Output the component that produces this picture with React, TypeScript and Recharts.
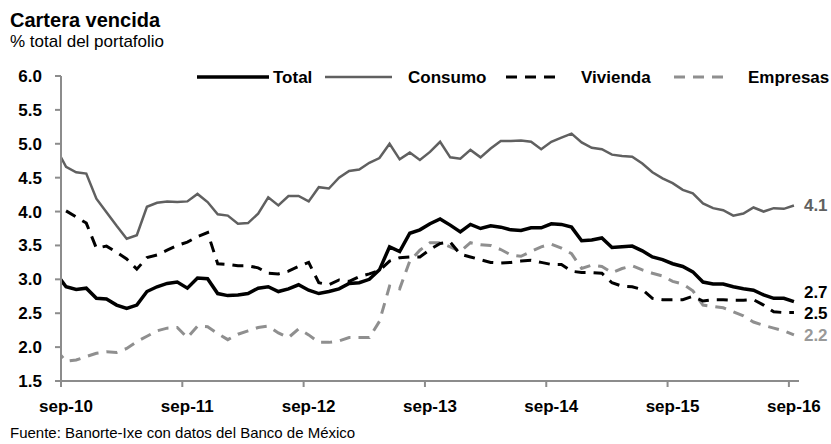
import { LineChart, Line, XAxis, YAxis } from "recharts";

// monthly series, Aug-10 .. Sep-16 (the Aug-10 value only feeds the clipped first segment)
const total = [
  3.09, 2.89, 2.85, 2.87, 2.72, 2.71, 2.62, 2.57, 2.62, 2.82, 2.89, 2.94, 2.96, 2.87, 3.02, 3.01, 2.79,
  2.76, 2.77, 2.79, 2.87, 2.89, 2.82, 2.86, 2.92, 2.84, 2.79, 2.82, 2.86, 2.94, 2.95, 3.0, 3.14, 3.48,
  3.41, 3.68, 3.73, 3.82, 3.89, 3.8, 3.7, 3.81, 3.75, 3.79, 3.77, 3.73, 3.72, 3.76, 3.76, 3.82, 3.81,
  3.77, 3.57, 3.58, 3.61, 3.47, 3.48, 3.49, 3.42, 3.33, 3.29, 3.23, 3.19, 3.11, 2.96, 2.93, 2.93, 2.89,
  2.86, 2.84, 2.77, 2.72, 2.72, 2.67,
];
const consumo = [
  4.94, 4.66, 4.58, 4.56, 4.19, 3.99, 3.79, 3.6, 3.65, 4.07, 4.13, 4.15, 4.14, 4.15, 4.26, 4.14, 3.96,
  3.94, 3.82, 3.83, 3.97, 4.21, 4.09, 4.23, 4.23, 4.15, 4.36, 4.34, 4.5, 4.6, 4.62, 4.72, 4.79, 5.0,
  4.77, 4.87, 4.76, 4.88, 5.03, 4.8, 4.78, 4.91, 4.8, 4.93, 5.04, 5.04, 5.05, 5.03, 4.92, 5.03, 5.09,
  5.15, 5.02, 4.94, 4.92, 4.84, 4.82, 4.81, 4.71, 4.58, 4.49, 4.42, 4.32, 4.27, 4.12, 4.05, 4.02, 3.94,
  3.97, 4.06, 4.0, 4.05, 4.04, 4.09,
];
const vivienda = [
  null, 4.01, 3.92, 3.83, 3.46, 3.49, 3.4, 3.3, 3.15, 3.32, 3.36, 3.43, 3.5, 3.55, 3.63, 3.69, 3.23,
  3.22, 3.2, 3.2, 3.17, 3.09, 3.08, 3.12, 3.19, 3.25, 2.95, 2.92, 2.99, 2.97, 3.04, 3.08, 3.13, 3.27,
  3.32, 3.33, 3.33, 3.44, 3.53, 3.55, 3.37, 3.33, 3.29, 3.25, 3.24, 3.25, 3.27, 3.28, 3.25, 3.22, 3.22,
  3.12, 3.1, 3.1, 3.09, 2.95, 2.9, 2.89, 2.85, 2.72, 2.7, 2.7, 2.7, 2.75, 2.68, 2.7, 2.7, 2.69,
  2.69, 2.7, 2.62, 2.52, 2.51, 2.51,
];
const empresas = [
  1.96, 1.79, 1.81, 1.86, 1.91, 1.93, 1.92, 1.98, 2.08, 2.16, 2.24, 2.28, 2.29, 2.14, 2.31, 2.3, 2.2,
  2.11, 2.19, 2.24, 2.29, 2.31, 2.21, 2.14, 2.27, 2.18, 2.07, 2.07, 2.09, 2.14, 2.14, 2.14, 2.38, 2.9,
  2.86, 3.27, 3.43, 3.54, 3.54, 3.48, 3.41, 3.54, 3.51, 3.5, 3.44, 3.36, 3.34, 3.41, 3.48, 3.52, 3.46,
  3.38, 3.16, 3.21, 3.19, 3.1, 3.16, 3.2, 3.14, 3.09, 3.05, 2.97, 2.93, 2.83, 2.62, 2.6, 2.58, 2.52,
  2.46, 2.37, 2.32, 2.28, 2.24, 2.18,
];

const tickLabels = ["sep-10", "sep-11", "sep-12", "sep-13", "sep-14", "sep-15", "sep-16"];
const yTicks = [1.5, 2.0, 2.5, 3.0, 3.5, 4.0, 4.5, 5.0, 5.5, 6.0];

// each month sits in the middle of its slot; index 0 is Aug-10, just left of the axis
const data = total.map((v, i) => ({
  pos: i - 0.5,
  total: v,
  consumo: consumo[i],
  vivienda: vivienda[i],
  empresas: empresas[i],
}));
const lastIndex = data.length - 1;

const FONT = "'Liberation Sans', Arial, Helvetica, sans-serif";
const AXIS_GRAY = "#8c8c8c";
const CONSUMO_GRAY = "#606060";
const EMPRESAS_GRAY = "#8f8f8f";

function MonthTick({ x, y, payload }: any) {
  return (
    <text x={x + 5} y={y} dy="0.71em" textAnchor="middle" fontSize={17} fontWeight="bold" fill="#000" fontFamily={FONT}>
      {tickLabels[Math.round(payload.value / 12)]}
    </text>
  );
}

const endLabel = (color: string, dy: number) => (props: any) => {
  const { x, y, index, value } = props;
  if (index !== lastIndex || value == null) return null;
  return (
    <text x={x + 10} y={y + dy} dy="0.355em" fill={color} fontSize={17} fontWeight="bold" fontFamily={FONT}>
      {Number(value).toFixed(1)}
    </text>
  );
};

function LegendRow() {
  return (
    <svg width={831} height={24} style={{ position: "absolute", left: 0, top: 65 }}>
      <g fontFamily={FONT} fontSize={17} fontWeight="bold" fill="#000">
        <line x1={197} x2={269} y1={12} y2={12} stroke="#000" strokeWidth={3.5} />
        <text x={273} y={12} dy="0.355em">Total</text>
        <line x1={325} x2={392} y1={12} y2={12} stroke={CONSUMO_GRAY} strokeWidth={2.5} />
        <text x={408} y={12} dy="0.355em">Consumo</text>
        <line x1={506} x2={557} y1={12} y2={12} stroke="#000" strokeWidth={3} strokeDasharray="11 8" />
        <text x={581} y={12} dy="0.355em">Vivienda</text>
        <line x1={674} x2={723} y1={12} y2={12} stroke={EMPRESAS_GRAY} strokeWidth={3} strokeDasharray="11 8" />
        <text x={748} y={12} dy="0.355em">Empresas</text>
      </g>
    </svg>
  );
}

export default function App() {
  return (
    <div style={{ position: "absolute", left: 0, top: 0, width: 831, height: 444, background: "#fff", fontFamily: FONT }}>
      <div style={{ position: "absolute", left: 10, top: 9.6, fontSize: 20, fontWeight: "bold", lineHeight: 1, whiteSpace: "nowrap" }}>
        Cartera vencida
      </div>
      <div style={{ position: "absolute", left: 10, top: 32.6, fontSize: 17, lineHeight: 1, whiteSpace: "nowrap" }}>
        % total del portafolio
      </div>

      <LineChart width={831} height={444} data={data} margin={{ top: 76, right: 32, bottom: 0, left: 0 }}>
        <XAxis
          dataKey="pos"
          type="number"
          domain={[0, 73]}
          allowDataOverflow
          ticks={[0, 12, 24, 36, 48, 60, 72]}
          height={63}
          tickSize={6}
          tickMargin={13}
          tick={<MonthTick />}
          axisLine={{ stroke: AXIS_GRAY, strokeWidth: 2 }}
          tickLine={{ stroke: AXIS_GRAY, strokeWidth: 2 }}
        />
        <YAxis
          domain={[1.5, 6]}
          ticks={yTicks}
          width={61}
          tickSize={6}
          tickMargin={13}
          tickFormatter={(v: number) => v.toFixed(1)}
          tick={{ fill: "#000", fontSize: 17, fontWeight: "bold", fontFamily: FONT }}
          axisLine={{ stroke: AXIS_GRAY, strokeWidth: 2 }}
          tickLine={{ stroke: AXIS_GRAY, strokeWidth: 2 }}
        />
        <Line dataKey="empresas" stroke={EMPRESAS_GRAY} strokeWidth={3} strokeDasharray="11 8" dot={false} activeDot={false} isAnimationActive={false} label={endLabel("#999999", 0)} />
        <Line dataKey="vivienda" stroke="#000" strokeWidth={3} strokeDasharray="11 8" dot={false} activeDot={false} isAnimationActive={false} label={endLabel("#000", 0)} />
        <Line dataKey="consumo" stroke={CONSUMO_GRAY} strokeWidth={2.5} dot={false} activeDot={false} isAnimationActive={false} label={endLabel(CONSUMO_GRAY, 0)} />
        <Line dataKey="total" stroke="#000" strokeWidth={3.5} dot={false} activeDot={false} isAnimationActive={false} label={endLabel("#000", -10)} />
      </LineChart>

      <LegendRow />
      <div style={{ position: "absolute", left: 10, top: 425.3, fontSize: 15, lineHeight: 1, whiteSpace: "nowrap" }}>
        Fuente: Banorte-Ixe con datos del Banco de México
      </div>
    </div>
  );
}
